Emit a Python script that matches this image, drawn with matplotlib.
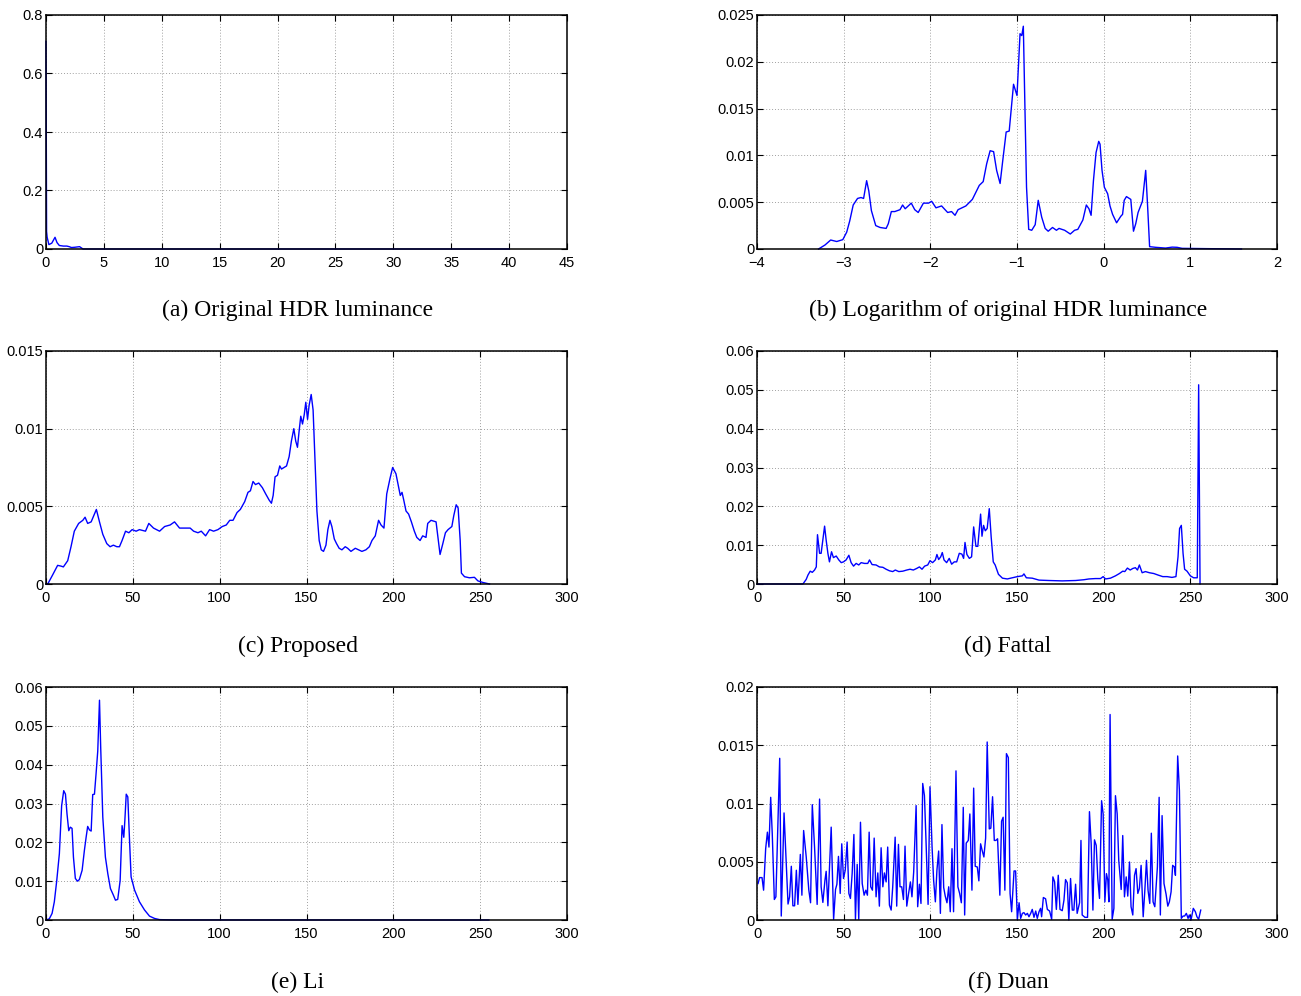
import matplotlib
matplotlib.use('Agg')
import matplotlib.pyplot as plt

plt.rcParams['font.family'] = ['Liberation Sans', 'DejaVu Sans']

# ---------------- (a) Original HDR luminance ----------------
a_x = [0, 0.05, 0.1, 0.25, 0.5, 0.78, 0.95, 1.15, 1.5, 1.8, 2.0, 2.2, 2.5, 2.9, 3.05, 3.2, 40]
a_y = [0.71, 0.06, 0.04, 0.015, 0.02, 0.04, 0.022, 0.012, 0.01, 0.01, 0.008, 0.005, 0.006, 0.008, 0.004, 0.0, 0.0]

# ---------------- (b) Logarithm of original HDR luminance ----------------
b_x = [-3.29, -3.215, -3.15, -3.08, -3.01, -2.965, -2.93, -2.89, -2.84, -2.80, -2.77, -2.735, -2.71,
       -2.68, -2.63, -2.58, -2.51, -2.485, -2.45, -2.41, -2.35, -2.32, -2.29, -2.22, -2.18, -2.14,
       -2.08, -2.02, -1.985, -1.935, -1.87, -1.80, -1.755, -1.715, -1.68, -1.59, -1.515, -1.435,
       -1.39, -1.35, -1.31, -1.27, -1.235, -1.195, -1.165, -1.125, -1.09, -1.04, -1.0, -0.965,
       -0.945, -0.927, -0.91, -0.89, -0.865, -0.83, -0.79, -0.755, -0.715, -0.675, -0.64, -0.59,
       -0.545, -0.515, -0.45, -0.385, -0.336, -0.298, -0.24, -0.2, -0.17, -0.145, -0.118, -0.088,
       -0.057, -0.042, -0.019, 0.008, 0.046, 0.073, 0.103, 0.149, 0.198, 0.218, 0.237, 0.263,
       0.313, 0.344, 0.37, 0.397, 0.447, 0.485, 0.508, 0.53, 0.6, 0.714, 0.79, 0.847, 0.905,
       1.17, 1.59]
b_y = [0.0, 0.00043, 0.00096, 0.0008, 0.001, 0.0018, 0.003, 0.0047, 0.0054, 0.0055, 0.0054, 0.0073,
       0.0062, 0.0041, 0.0025, 0.0023, 0.0022, 0.0027, 0.004, 0.004, 0.0042, 0.0047, 0.0043,
       0.0049, 0.0042, 0.0039, 0.0049, 0.0049, 0.0051, 0.0044, 0.0046, 0.0039, 0.004, 0.0036,
       0.0042, 0.0046, 0.0053, 0.0068, 0.0072, 0.0091, 0.0105, 0.0104, 0.0084, 0.007, 0.0094,
       0.0125, 0.0126, 0.0176, 0.0164, 0.023, 0.0228, 0.0238, 0.0158, 0.0066, 0.0021, 0.002,
       0.0026, 0.0052, 0.0034, 0.0022, 0.0019, 0.0023, 0.002, 0.0022, 0.002, 0.0016, 0.002,
       0.0021, 0.0031, 0.0047, 0.0043, 0.0036, 0.0073, 0.0103, 0.0115, 0.0112, 0.0084, 0.0066,
       0.0059, 0.0046, 0.0037, 0.0028, 0.0035, 0.0037, 0.0052, 0.0056, 0.0053, 0.0019, 0.0027,
       0.0039, 0.0051, 0.0084, 0.0044, 0.00025, 0.00018, 0.0001, 0.0002, 0.00018, 0.00007,
       0.00004, 0.0]

# ---------------- (c) Proposed ----------------
c_x = [0, 1, 3.8, 6.7, 8.7, 10, 12.5, 14.4, 16.3, 18.8, 21.2, 22.5, 24, 26, 27.5, 29, 30.8, 32.7, 35,
       36.9, 38.8, 40.8, 42.3, 43.8, 45.8, 47.7, 49.6, 51.9, 53.8, 57.3, 59.2, 61.9, 65.4, 68.3,
       71.5, 74, 76.9, 80.8, 83, 85, 87.5, 89.4, 91.9, 94.2, 96.5, 99, 101.5, 103.8, 105.8,
       107.7, 110, 111.9, 114.4, 116.3, 117.7, 119.2, 120.6, 122.5, 124.6, 126.5, 128.5, 129.8,
       130.8, 131.9, 133.3, 134.6, 135.6, 137.1, 138.5, 140, 141.3, 142.7, 143.8, 144.8, 145.8,
       146.7, 147.7, 148.7, 149.6, 150.6, 151.5, 152.7, 153.8, 154.8, 156, 157.3, 158.5, 159.8,
       161.2, 162.3, 163.5, 164.6, 166, 167.3, 168.8, 170.4, 172.3, 173.7, 175.6, 178.1, 180,
       181.9, 184.2, 186.2, 187.7, 189.6, 191.5, 192.9, 194.6, 196.2, 198.1, 199.6, 201.5,
       203.1, 204, 205, 206, 207.3, 208.8, 210.4, 212.1, 213.5, 215.4, 216.9, 218.8, 219.8,
       221.7, 224.6, 226, 226.9, 228.5, 230, 231.5, 233.7, 234.8, 236.2, 237.3, 238.5, 239.2,
       241, 243.8, 246.7, 248.7, 251.5, 255.4]
c_y = [0, 0, 0.00058, 0.0012, 0.00115, 0.0011, 0.0015, 0.0024, 0.0034, 0.0039, 0.0041, 0.0043,
       0.0039, 0.004, 0.0044, 0.0048, 0.004, 0.0032, 0.0026, 0.0024, 0.0025, 0.0024, 0.0024,
       0.0028, 0.0034, 0.0033, 0.0035, 0.0034, 0.0035, 0.0034, 0.0039, 0.0036, 0.0034, 0.0037,
       0.0038, 0.004, 0.0036, 0.0036, 0.0036, 0.0034, 0.0033, 0.0034, 0.0031, 0.0035, 0.0034,
       0.0035, 0.0037, 0.0038, 0.0041, 0.0041, 0.0046, 0.0048, 0.0053, 0.0059, 0.006, 0.0066,
       0.0064, 0.0065, 0.0062, 0.0058, 0.0054, 0.0052, 0.0057, 0.0069, 0.007, 0.0076, 0.0074,
       0.0075, 0.0076, 0.0082, 0.0092, 0.01, 0.0092, 0.0088, 0.0099, 0.0108, 0.0103, 0.0109,
       0.0117, 0.0106, 0.0115, 0.0122, 0.0112, 0.0082, 0.0047, 0.0028, 0.0022, 0.0021, 0.0025,
       0.0035, 0.0041, 0.0037, 0.0029, 0.0026, 0.0023, 0.0022, 0.0024, 0.0023, 0.0021, 0.0023,
       0.0022, 0.0021, 0.0022, 0.0024, 0.0028, 0.0031, 0.0041, 0.0038, 0.0036, 0.0058, 0.0068,
       0.0075, 0.0071, 0.0062, 0.0057, 0.0059, 0.0054, 0.0047, 0.0045, 0.004, 0.0034, 0.003,
       0.0028, 0.0031, 0.003, 0.0039, 0.0041, 0.004, 0.0027, 0.0019, 0.0026, 0.0033, 0.0035,
       0.0037, 0.0044, 0.0051, 0.0049, 0.0028, 0.0007, 0.00047, 0.0004, 0.00043, 0.0002,
       0.0001, 0.0]

# ---------------- (d) Fattal ----------------
d_x = [0, 26.5, 28.4, 29.4, 30.7, 31.9, 33.2, 34.2, 34.9, 36.1, 37, 38, 39, 39.9, 40.9, 41.8, 43,
       44.1, 45.7, 47.2, 48.6, 49.9, 51.4, 53, 54.3, 55.7, 57.2, 58.7, 60.1, 62, 63.9, 64.9, 66.4,
       68.7, 70.6, 72.6, 74.5, 76.4, 78.3, 79.8, 81.8, 84.1, 86.4, 88.3, 90.2, 92.1, 93.7, 95.2,
       96.7, 98.5, 99.8, 101.3, 102.9, 103.8, 104.8, 106, 106.9, 107.9, 109.4, 110.9, 112.3,
       113.8, 115.2, 116.7, 118.2, 119.2, 120, 121.1, 122.5, 123.8, 125, 126.3, 127.4, 129,
       129.8, 130.7, 131.7, 132.8, 134, 135.1, 136.3, 137.4, 139.3, 141.6, 144.4, 147.3, 150.2,
       153.1, 154, 155.4, 158.8, 162.7, 168.4, 176.1, 183.8, 188.6, 191.5, 195.3, 198.2, 199.7,
       201.1, 203.9, 206.8, 209.1, 211, 212.2, 213.7, 215.3, 216.8, 218.3, 219.5, 220.6, 222.2,
       224.1, 226.4, 228.9, 231.4, 234.1, 236.6, 239.4, 241.7, 242.9, 243.8, 244.8, 245.8,
       246.7, 248.1, 250, 251.9, 254, 254.8, 255.6]
d_y = [0, 0, 0.0012, 0.0023, 0.0033, 0.003, 0.0036, 0.0044, 0.0127, 0.0079, 0.0079, 0.0113, 0.0149,
       0.0113, 0.0079, 0.0057, 0.0083, 0.0068, 0.0072, 0.0062, 0.0055, 0.0057, 0.0062, 0.0074,
       0.0055, 0.0046, 0.0053, 0.0049, 0.0055, 0.0053, 0.0053, 0.0062, 0.005, 0.0049, 0.0044,
       0.0043, 0.0038, 0.0034, 0.0032, 0.0036, 0.0032, 0.0033, 0.0036, 0.0038, 0.0036, 0.004,
       0.0044, 0.0038, 0.0046, 0.0049, 0.006, 0.0055, 0.0062, 0.0076, 0.0063, 0.007, 0.0081,
       0.0062, 0.0055, 0.0066, 0.0051, 0.0057, 0.0057, 0.0079, 0.0077, 0.0066, 0.0107, 0.0076,
       0.0066, 0.007, 0.0147, 0.0097, 0.0097, 0.018, 0.0123, 0.0151, 0.0137, 0.0143, 0.0194,
       0.0121, 0.0057, 0.0049, 0.0025, 0.0015, 0.0013, 0.0016, 0.0019, 0.0021, 0.0026, 0.0016,
       0.0015, 0.001, 0.0009, 0.0008, 0.0009, 0.0011, 0.0013, 0.0014, 0.0014, 0.0019, 0.0013,
       0.0015, 0.0021, 0.0027, 0.0033, 0.0032, 0.0041, 0.0036, 0.004, 0.0042, 0.0036, 0.0049,
       0.0029, 0.0032, 0.0029, 0.0027, 0.0023, 0.0019, 0.0019, 0.0017, 0.0019, 0.007, 0.0143,
       0.0151, 0.0079, 0.0038, 0.0033, 0.0021, 0.0016, 0.0016, 0.0513, 0.0]

# ---------------- (e) Li ----------------
e_x = [0, 1.9, 3.5, 4.8, 6.2, 7.7, 9, 10.2, 11.2, 12.1, 13.1, 14, 15, 15.8, 16.9, 18.1, 19.2, 20.8,
       22.1, 23.1, 24, 25, 26, 26.9, 27.9, 28.8, 29.8, 30.8, 31.5, 32.7, 34.2, 35.6, 37.1, 38.8,
       40, 41.3, 42.7, 43.8, 44.8, 45.4, 46.2, 47.1, 48.1, 49, 51, 53.8, 56.7, 59.6, 62.5, 65.4,
       73, 255]
e_y = [0, 0.0003, 0.0017, 0.0047, 0.0102, 0.0171, 0.0294, 0.0333, 0.0324, 0.0273, 0.023, 0.0239,
       0.0236, 0.0162, 0.0107, 0.01, 0.0104, 0.0128, 0.0179, 0.0213, 0.0241, 0.0232, 0.0229,
       0.0323, 0.0324, 0.0375, 0.0435, 0.0566, 0.0444, 0.0265, 0.0162, 0.0119, 0.0081, 0.0064,
       0.0051, 0.0053, 0.0102, 0.0243, 0.0213, 0.0256, 0.0324, 0.0317, 0.0205, 0.0111, 0.0077,
       0.0047, 0.0026, 0.001, 0.0004, 0.0001, 0.00002, 0.0]

# ---------------- (f) Duan ----------------
f_x = [0.6, 1.5, 2.9, 3.8, 5.0, 6.0, 6.9, 7.9, 8.8, 10.0, 10.9, 13.1, 14.0, 15.6, 17.9, 18.8, 19.8,
       20.7, 21.7, 22.7, 23.6, 25.0, 25.9, 26.9, 28.4, 29.9, 30.9, 31.9, 33.2, 34.7, 36.1, 37.0,
       38.0, 39.2, 39.9, 40.9, 42.8, 44.2, 45.3, 46.1, 47.0, 48.0, 48.9, 49.9, 50.9, 52.0, 53.0,
       53.9, 54.9, 55.9, 56.8, 57.8, 58.7, 59.7, 60.7, 61.8, 62.8, 63.7, 64.7, 65.6, 66.6, 67.6,
       68.7, 69.7, 70.6, 71.6, 72.6, 73.5, 74.5, 75.4, 76.4, 77.4, 78.3, 79.7, 80.6, 81.6, 82.5,
       83.5, 84.5, 85.4, 86.4, 87.3, 88.5, 89.4, 90.4, 91.8, 92.7, 93.7, 94.6, 95.6, 96.6, 97.5,
       98.7, 99.8, 101.0, 101.9, 102.9, 103.8, 104.8, 105.8, 106.7, 107.7, 108.6, 109.6, 110.6,
       111.5, 112.5, 113.4, 114.8, 115.9, 116.9, 117.9, 119.0, 119.8, 120.7, 121.9, 122.8, 124.0,
       125.0, 125.9, 127.1, 128.0, 129.0, 129.9, 130.9, 131.9, 132.8, 134.0, 134.9, 135.9, 136.9,
       137.8, 138.8, 140.1, 141.1, 142.0, 143.0, 143.9, 145.0, 146.0, 146.9, 148.3, 149.2, 150.2,
       151.2, 152.1, 153.1, 154.0, 155.0, 156.0, 156.9, 157.9, 158.8, 159.8, 160.8, 161.7, 162.7,
       163.6, 164.2, 165.2, 166.5, 167.5, 168.8, 170.0, 170.7, 171.7, 172.7, 173.8, 174.8, 176.1,
       177.1, 178.0, 179.0, 179.9, 180.9, 181.9, 182.8, 183.8, 184.7, 186.1, 186.9, 187.6, 189.2,
       190.7, 191.8, 192.8, 193.8, 194.7, 195.7, 196.6, 197.6, 198.8, 199.7, 200.7, 201.6, 202.4,
       203.0, 203.7, 204.9, 205.9, 206.8, 207.8, 208.7, 210.1, 211.0, 212.0, 213.0, 213.9, 214.9,
       215.8, 216.8, 217.8, 218.7, 219.7, 220.6, 221.6, 222.8, 223.7, 224.7, 225.6, 226.6, 227.5,
       228.5, 229.5, 230.4, 231.0, 232.0, 232.7, 233.7, 234.8, 236.0, 237.0, 237.9, 238.9, 239.8,
       240.8, 241.4, 242.7, 243.7, 244.8, 245.8, 246.7, 247.7, 248.7, 249.4, 250.4, 251.7, 252.9,
       253.8, 254.8, 256.0]
f_y = [3.13, 3.64, 3.64, 2.56, 6.12, 7.54, 6.26, 10.53, 7.40, 1.76, 1.99, 13.88, 0.34, 9.19, 1.37,
       1.99, 4.61, 1.22, 1.22, 4.27, 1.34, 5.63, 2.13, 7.68, 5.41, 2.56, 1.48, 9.90, 6.26, 1.34,
       10.38, 2.85, 1.51, 3.41, 4.18, 1.22, 7.97, 0.06, 2.62, 3.07, 5.46, 2.28, 6.54, 3.56, 4.27,
       6.69, 2.28, 1.85, 3.98, 7.34, 0.06, 4.78, 0.06, 8.39, 3.13, 2.13, 2.56, 2.13, 7.54, 2.85,
       2.56, 7.03, 1.99, 4.04, 1.19, 6.20, 2.85, 4.04, 3.27, 6.26, 1.28, 0.85, 2.85, 7.11, 1.19,
       6.49, 2.85, 2.85, 1.76, 6.34, 1.19, 2.13, 3.27, 1.99, 4.13, 9.82, 1.14, 3.07, 1.42, 11.72,
       10.67, 6.83, 1.34, 11.44, 6.26, 3.41, 1.56, 4.27, 5.92, 0.57, 8.19, 2.79, 2.05, 1.48, 2.85,
       0.71, 6.12, 0.71, 12.80, 2.85, 2.28, 1.48, 9.67, 0.43, 6.60, 6.83, 9.10, 2.56, 11.32, 4.61,
       4.55, 3.36, 6.54, 5.97, 5.41, 7.03, 15.28, 7.82, 7.88, 10.58, 6.83, 6.83, 6.97, 2.13, 8.48,
       8.82, 2.56, 14.28, 13.94, 2.28, 0.71, 4.21, 4.21, 0.06, 1.48, 0.14, 0.57, 0.63, 0.43, 0.57,
       0.28, 0.57, 0.91, 0.23, 0.77, 0.14, 0.71, 1.00, 0.28, 1.93, 1.82, 0.91, 0.77, 0.06, 3.70,
       3.27, 0.91, 3.84, 0.91, 0.80, 1.71, 3.47, 3.19, 0.0, 3.56, 0.85, 0.85, 3.07, 0.57, 1.48,
       6.83, 0.43, 0.23, 0.23, 9.30, 6.54, 0.85, 6.88, 6.40, 3.56, 1.85, 10.24, 9.10, 1.56, 3.98,
       3.41, 1.56, 17.64, 0.06, 1.00, 10.67, 9.10, 5.12, 2.62, 7.25, 1.99, 3.70, 2.05, 4.98, 1.14,
       0.43, 3.84, 4.41, 2.28, 2.70, 4.69, 0.28, 2.42, 5.12, 2.56, 1.42, 7.45, 1.56, 1.14, 3.13,
       4.55, 10.53, 0.43, 8.96, 3.13, 2.22, 1.19, 1.56, 2.42, 4.69, 4.55, 3.84, 14.08, 11.10,
       0.14, 0.34, 0.34, 0.57, 0.14, 0.43, 0.0, 1.00, 0.71, 0.28, 0.06, 0.85]
f_y = [v / 1000.0 for v in f_y]

# ---------------- axes ticks / labels ----------------
xt_a = [0, 5, 10, 15, 20, 25, 30, 35, 40, 45]
xl_a = ['0', '5', '10', '15', '20', '25', '30', '35', '40', '45']
yt_a = [0, 0.2, 0.4, 0.6, 0.8]
yl_a = ['0', '0.2', '0.4', '0.6', '0.8']

xt_b = [-4, -3, -2, -1, 0, 1, 2]
xl_b = ['\u22124', '\u22123', '\u22122', '\u22121', '0', '1', '2']
yt_b = [0, 0.005, 0.01, 0.015, 0.02, 0.025]
yl_b = ['0', '0.005', '0.01', '0.015', '0.02', '0.025']

xt_256 = [0, 50, 100, 150, 200, 250, 300]
xl_256 = ['0', '50', '100', '150', '200', '250', '300']
yt_c = [0, 0.005, 0.01, 0.015]
yl_c = ['0', '0.005', '0.01', '0.015']
yt_de = [0, 0.01, 0.02, 0.03, 0.04, 0.05, 0.06]
yl_de = ['0', '0.01', '0.02', '0.03', '0.04', '0.05', '0.06']
yt_f = [0, 0.005, 0.01, 0.015, 0.02]
yl_f = ['0', '0.005', '0.01', '0.015', '0.02']

captions = ['(a) Original HDR luminance', '(b) Logarithm of original HDR luminance',
            '(c) Proposed', '(d) Fattal', '(e) Li', '(f) Duan']

W, H = 1301, 996
fig = plt.figure(figsize=(W / 100, H / 100), dpi=100)


def make_axes(l, t, r, b):
    return fig.add_axes([l / W, 1 - b / H, (r - l) / W, (b - t) / H])


panels = [
    (a_x, a_y, (0, 45), (0, 0.8), xt_a, xl_a, yt_a, yl_a, (46, 15, 567, 249)),
    (b_x, b_y, (-4, 2), (0, 0.025), xt_b, xl_b, yt_b, yl_b, (757, 15, 1277, 249)),
    (c_x, c_y, (0, 300), (0, 0.015), xt_256, xl_256, yt_c, yl_c, (46, 351, 567, 584)),
    (d_x, d_y, (0, 300), (0, 0.06), xt_256, xl_256, yt_de, yl_de, (757, 351, 1277, 584)),
    (e_x, e_y, (0, 300), (0, 0.06), xt_256, xl_256, yt_de, yl_de, (46, 687, 567, 920)),
    (f_x, f_y, (0, 300), (0, 0.02), xt_256, xl_256, yt_f, yl_f, (757, 687, 1277, 920)),
]

cap_pos = [(298, 310), (1008, 310), (298, 646), (1008, 646), (298, 982), (1008, 982)]

for (x, y, xlim, ylim, xt, xl, yt, yl, box), cap, (cx, cy) in zip(panels, captions, cap_pos):
    ax = make_axes(*box)
    ax.plot(x, y, color='#0000ff', linewidth=1.0, clip_on=False)
    ax.set_xlim(*xlim)
    ax.set_ylim(*ylim)
    ax.set_xticks(xt)
    ax.set_xticklabels(xl)
    ax.set_yticks(yt)
    ax.set_yticklabels(yl)
    ax.grid(True, linestyle=(0, (1, 2)), color='#a0a0a0', linewidth=0.7)
    ax.tick_params(direction='in', top=True, right=True, length=4, width=0.8,
                   labelsize=10.5)
    ax.tick_params(axis='x', pad=5)
    ax.tick_params(axis='y', pad=2)
    for s in ax.spines.values():
        s.set_linewidth(1.1)
    fig.text(cx / W, 1 - cy / H, cap, ha='center', va='center', fontsize=17,
             family=['Liberation Serif', 'DejaVu Serif'])

fig.savefig('out.png', dpi=100)
